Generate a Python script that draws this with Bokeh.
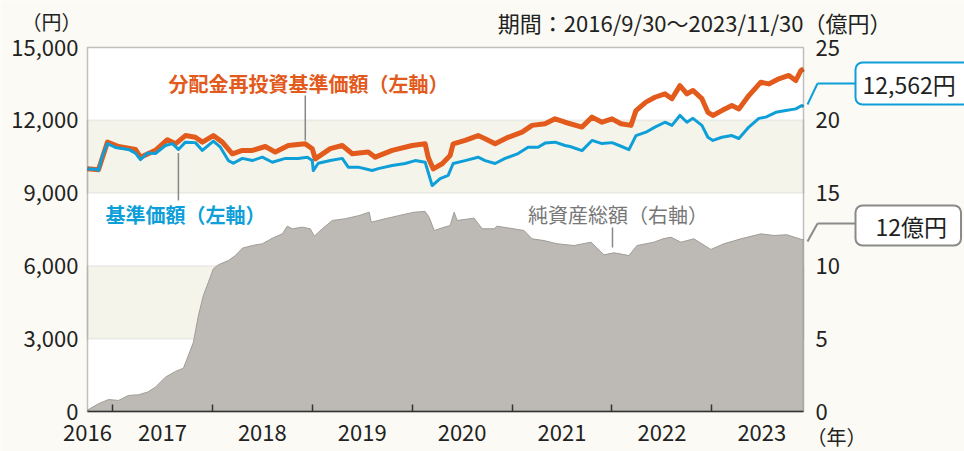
from bokeh.plotting import figure
from bokeh.models import (Range1d, LinearAxis, FixedTicker, BoxAnnotation, Label,
                          Arrow, NumeralTickFormatter)
from bokeh.embed import file_html
from bokeh.resources import INLINE

# ---------------- data (decimal year, value) ----------------
nav_t = [2016.75, 2016.85, 2016.86, 2016.90, 2016.95, 2017.03, 2017.16, 2017.23, 2017.28, 2017.35,
         2017.43, 2017.53, 2017.60, 2017.66, 2017.73, 2017.83, 2017.90, 2018.01, 2018.08, 2018.16,
         2018.21, 2018.30, 2018.40, 2018.50, 2018.60, 2018.73, 2018.86, 2018.95, 2019.00, 2019.01,
         2019.06, 2019.18, 2019.30, 2019.36, 2019.46, 2019.60, 2019.66, 2019.80, 2019.93, 2020.03,
         2020.13, 2020.16, 2020.20, 2020.28, 2020.36, 2020.41, 2020.53, 2020.66, 2020.73, 2020.83,
         2020.93, 2021.06, 2021.16, 2021.26, 2021.33, 2021.43, 2021.53, 2021.58, 2021.70, 2021.80,
         2021.90, 2022.00, 2022.09, 2022.17, 2022.24, 2022.34, 2022.43, 2022.53, 2022.60, 2022.68,
         2022.75, 2022.81, 2022.90, 2022.96, 2023.01, 2023.10, 2023.20, 2023.27, 2023.37, 2023.47,
         2023.54, 2023.64, 2023.74, 2023.84, 2023.90, 2023.917]
nav = [10000, 9970, 9930, 10550, 11040, 10880, 10800, 10650, 10380, 10650,
       10630, 10960, 11040, 10800, 11100, 11080, 10760, 11140, 10890, 10340,
       10230, 10430, 10340, 10480, 10270, 10430, 10430, 10480, 10340, 9930,
       10230, 10340, 10430, 10070, 10070, 9930, 10010, 10140, 10220, 10340,
       10270, 9860, 9310, 9600, 9730, 10220, 10340, 10480, 10340, 10220,
       10430, 10630, 10890, 10890, 11060, 11100, 10960, 10920, 10750, 11170,
       11040, 11080, 10930, 10790, 11370, 11510, 11720, 11920, 11790, 12200,
       11920, 12080, 11790, 11300, 11170, 11300, 11370, 11250, 11720, 12080,
       12130, 12330, 12400, 12470, 12610, 12562]

re_t = [2016.75, 2016.86, 2016.95, 2017.06, 2017.23, 2017.28, 2017.43, 2017.55, 2017.63, 2017.73,
        2017.83, 2017.90, 2018.01, 2018.10, 2018.20, 2018.30, 2018.40, 2018.53, 2018.63, 2018.76,
        2018.93, 2019.00, 2019.03, 2019.18, 2019.30, 2019.40, 2019.56, 2019.63, 2019.80, 2020.00,
        2020.13, 2020.16, 2020.21, 2020.30, 2020.38, 2020.41, 2020.53, 2020.66, 2020.73, 2020.83,
        2020.96, 2021.10, 2021.20, 2021.33, 2021.43, 2021.53, 2021.70, 2021.80, 2021.90, 2022.00,
        2022.09, 2022.19, 2022.24, 2022.34, 2022.43, 2022.53, 2022.60, 2022.68, 2022.75, 2022.81,
        2022.90, 2022.96, 2023.01, 2023.10, 2023.20, 2023.27, 2023.37, 2023.49, 2023.57, 2023.67,
        2023.77, 2023.84, 2023.89, 2023.917]
reinvested = [10000, 9960, 11100, 10920, 10800, 10480, 10760, 11200, 11030, 11370,
              11300, 11100, 11370, 11100, 10620, 10760, 10760, 10920, 10690, 10960,
              11030, 10830, 10410, 10830, 10960, 10620, 10690, 10480, 10760, 10960,
              11030, 10480, 10000, 10210, 10550, 11030, 11170, 11370, 11240, 11030,
              11300, 11510, 11790, 11860, 12060, 11920, 11720, 12130, 11920, 12060,
              11860, 11790, 12400, 12750, 12950, 13090, 12890, 13430, 13090, 13230,
              12890, 12330, 12200, 12400, 12610, 12470, 13020, 13570, 13500, 13710,
              13850, 13640, 14050, 14120]

aum_t = [2016.75, 2016.86, 2016.96, 2017.06, 2017.16, 2017.26, 2017.35, 2017.43, 2017.53, 2017.63,
         2017.71, 2017.76, 2017.81, 2017.86, 2017.91, 2017.96, 2018.01, 2018.06, 2018.16, 2018.23,
         2018.30, 2018.40, 2018.50, 2018.60, 2018.70, 2018.75, 2018.80, 2018.90, 2018.98, 2019.02,
         2019.10, 2019.20, 2019.33, 2019.47, 2019.57, 2019.59, 2019.73, 2019.87, 2020.02, 2020.13,
         2020.17, 2020.22, 2020.32, 2020.38, 2020.42, 2020.45, 2020.62, 2020.70, 2020.82, 2020.85,
         2021.12, 2021.20, 2021.32, 2021.45, 2021.62, 2021.79, 2021.92, 2022.02, 2022.17, 2022.25,
         2022.42, 2022.51, 2022.59, 2022.69, 2022.82, 2022.99, 2023.12, 2023.29, 2023.49, 2023.62,
         2023.75, 2023.90, 2023.917]
aum = [0.1, 0.53, 0.82, 0.76, 1.10, 1.15, 1.33, 1.67, 2.36, 2.75,
       2.97, 3.85, 4.76, 6.59, 7.97, 8.88, 9.80, 10.08, 10.37, 10.71,
       11.22, 11.40, 11.52, 11.90, 12.20, 12.73, 12.55, 12.66, 12.55, 12.04,
       12.55, 13.12, 13.24, 13.46, 13.69, 13.00, 13.24, 13.46, 13.69, 13.74,
       13.34, 12.43, 12.66, 12.77, 13.69, 13.12, 13.28, 12.55, 12.55, 12.73,
       12.43, 11.86, 11.74, 11.52, 11.40, 11.63, 10.76, 10.90, 10.71, 11.40,
       11.63, 11.86, 11.97, 11.63, 11.86, 11.13, 11.52, 11.86, 12.20, 12.09,
       12.14, 11.81, 11.8]

x_start, x_end = 2016.75, 2023.917
left_ticks = [0, 3000, 6000, 9000, 12000, 15000]
right_ticks = [0, 5, 10, 15, 20, 25]
year_ticks = [2017, 2018, 2019, 2020, 2021, 2022, 2023]
year_label_pos = [2016.75, 2017.5, 2018.5, 2019.5, 2020.5, 2021.5, 2022.5, 2023.5]
year_labels = ["2016", "2017", "2018", "2019", "2020", "2021", "2022", "2023"]
band_ranges = [(3000, 6000), (9000, 12000)]

# ---------------- layout (pixels) ----------------
W, H = 964, 451
PL, PR, PT, PB = 87, 803, 47, 411          # plot-area edges in the canvas
Y_MAX, R_MAX = 15000, 25

kx = (PR - PL) / (x_end - x_start)
ky = (PB - PT) / Y_MAX
xr = Range1d(x_start - PL / kx, x_end + (W - PR) / kx)
y_lo = -(H - PB) / ky
y_hi = Y_MAX + PT / ky
yr = Range1d(y_lo, y_hi)
scale_r = R_MAX / Y_MAX

# ---------------- style ----------------
FONT = "Noto Sans CJK JP"
BG = "#fbfaf4"
BAND = "#f5f4ea"
GRID = "#cfcfcf"
ORANGE = "#e25a1c"
BLUE = "#0e9fd9"
AREA = "#bdbab5"
AREA_EDGE = "#a09c97"
TXT = "#222222"
DARK = "#333333"

p = figure(width=W, height=H, output_backend="svg", toolbar_location=None,
           x_range=xr, y_range=yr,
           min_border_left=0, min_border_right=0, min_border_top=0, min_border_bottom=0,
           background_fill_color=BG, border_fill_color=BG)
p.extra_y_ranges = {"right": Range1d(y_lo * scale_r, y_hi * scale_r)}
p.outline_line_color = None
p.xgrid.visible = False
p.ygrid.visible = False

# plot area + bands (band borders act as grid lines)
p.add_layout(BoxAnnotation(left=x_start, right=x_end, bottom=0, top=Y_MAX,
                           fill_color="white", fill_alpha=1, line_color=None, level="image"))
for lo, hi in band_ranges:
    p.add_layout(BoxAnnotation(left=x_start, right=x_end, bottom=lo, top=hi,
                               fill_color=BAND, fill_alpha=1, line_color=GRID,
                               line_width=2, level="image"))

# left axis
ax = p.yaxis[0]
ax.fixed_location = x_start
ax.bounds = (0, Y_MAX)
ax.ticker = FixedTicker(ticks=left_ticks)
ax.formatter = NumeralTickFormatter(format="0,0")
ax.major_tick_line_color = None
ax.major_tick_out = 0
ax.major_tick_in = 0
ax.minor_tick_line_color = None
ax.axis_line_color = None
ax.major_label_standoff = 9
ax.major_label_text_font = FONT
ax.major_label_text_font_size = "22px"
ax.major_label_text_color = TXT

# right axis
rax = LinearAxis(y_range_name="right", ticker=FixedTicker(ticks=right_ticks),
                 fixed_location=x_end, bounds=(0, R_MAX))
rax.major_tick_line_color = None
rax.major_tick_out = 0
rax.major_tick_in = 0
rax.minor_tick_line_color = None
rax.axis_line_color = None
rax.major_label_standoff = 12
rax.major_label_text_font = FONT
rax.major_label_text_font_size = "22px"
rax.major_label_text_color = TXT
p.add_layout(rax, "right")

# bottom axis: labels centred in each year, year-boundary ticks as minor ticks
bx = p.xaxis[0]
bx.fixed_location = 0
bx.bounds = (x_start, x_end)
bx.ticker = FixedTicker(ticks=year_label_pos, minor_ticks=year_ticks)
bx.major_label_overrides = {v: s for v, s in zip(year_label_pos, year_labels)}
bx.major_tick_in = 0
bx.major_tick_out = 0
bx.major_tick_line_color = None
bx.minor_tick_in = 7
bx.minor_tick_out = 0
bx.minor_tick_line_color = DARK
bx.minor_tick_line_width = 1.5
bx.axis_line_color = DARK
bx.axis_line_width = 1.5
bx.major_label_standoff = 13
bx.major_label_text_font = FONT
bx.major_label_text_font_size = "22px"
bx.major_label_text_color = TXT

# data
p.varea(x=aum_t, y1=0, y2=aum, y_range_name="right", fill_color=AREA)
p.line(aum_t, aum, y_range_name="right", line_color=AREA_EDGE, line_width=1)
p.line(re_t, reinvested, line_color=ORANGE, line_width=5, line_join="round")
p.line(nav_t, nav, line_color=BLUE, line_width=3, line_join="round")

# plot outline on top
p.add_layout(BoxAnnotation(left=x_start, right=x_end, bottom=0, top=Y_MAX,
                           fill_color=None, line_color=DARK, line_width=1.5))

def slabel(x, y, text, align="left", size="20px", color=TXT, **kw):
    p.add_layout(Label(x=x, y=H - y, x_units="screen", y_units="screen", text=text,
                       text_align=align, text_baseline="middle", text_font=FONT,
                       text_font_size=size, text_color=color, **kw))

slabel(806, 436, "（年）", size="20px")
slabel(81, 21, "（円）", align="right", size="20px")
slabel(803, 21, "期間：2016/9/30～2023/11/30", align="right", size="22px")
slabel(803, 21, "（億円）", size="22px")

# series labels
def dlabel(x, y, text, color, weight="normal"):
    p.add_layout(Label(x=x, y=y, text=text, text_align="left", text_baseline="middle",
                       text_font=FONT, text_font_size="20px", text_color=color,
                       text_font_style=weight))

dlabel(2017.56, 13520, "分配金再投資基準価額（左軸）", ORANGE, "bold")
dlabel(2016.93, 8120, "基準価額（左軸）", BLUE, "bold")
dlabel(2021.16, 8120, "純資産総額（右軸）", "#777777")

def leader(x, y0, y1):
    p.add_layout(Arrow(end=None, x_start=x, y_start=y0, x_end=x, y_end=y1,
                       line_color="#888888", line_width=1.5))

leader(2018.93, 13020, 11170)
leader(2017.66, 10650, 8700)
leader(2022.005, 7580, 6760)

# callouts
def conn(pts, color):
    for (x0, y0), (x1, y1) in zip(pts[:-1], pts[1:]):
        p.add_layout(Arrow(end=None, x_start=x0, y_start=H - y0, x_end=x1, y_end=H - y1,
                           start_units="screen", end_units="screen",
                           line_color=color, line_width=2))

conn([(807, 104), (817, 83), (856, 83)], BLUE)
conn([(807, 241), (817, 223), (856, 223)], "#8a8a8a")

slabel(855, 83, "12,562円", size="23px",
       background_fill_color="white", border_line_color=BLUE, border_line_width=2,
       padding=dict(left=7, right=40, top=4, bottom=4), border_radius=7)
slabel(855, 225, "12億円", size="23px",
       background_fill_color="white", border_line_color="#8a8a8a", border_line_width=2,
       padding=dict(left=20, right=14, top=3, bottom=3), border_radius=7)

open("out.html", "w").write(file_html(p, INLINE))
